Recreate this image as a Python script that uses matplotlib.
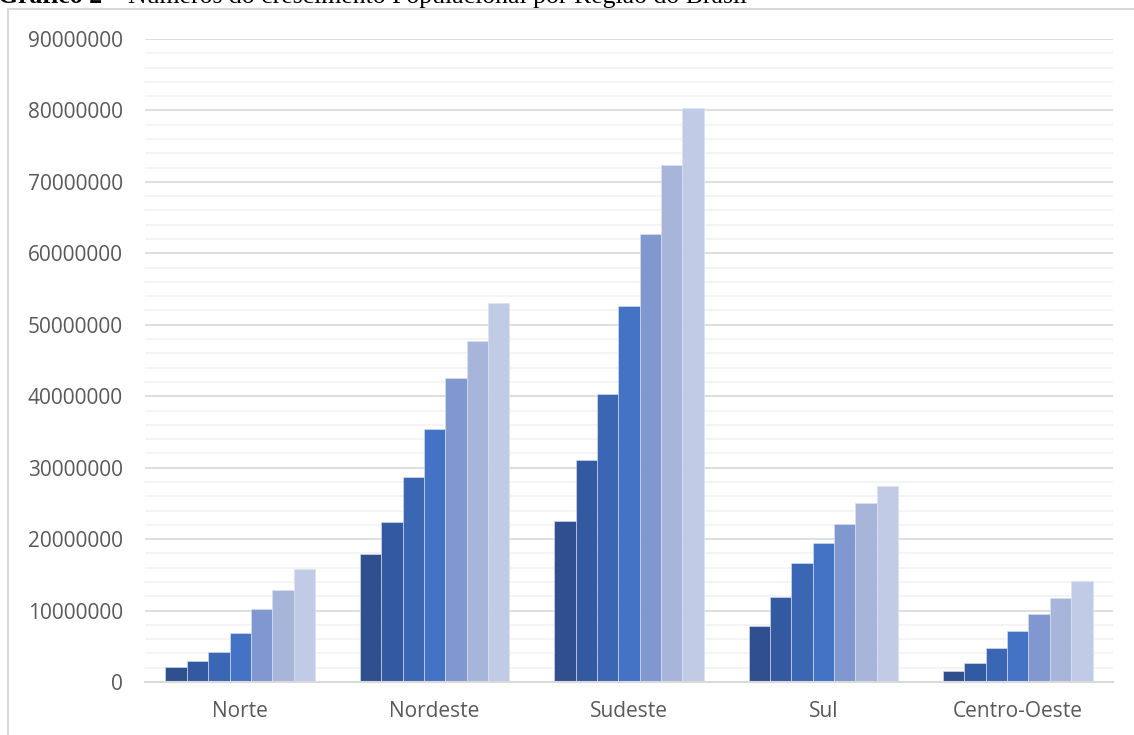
import matplotlib.pyplot as plt
import numpy as np
from matplotlib.lines import Line2D

# Populacao por regiao em cada censo (1950 a 2010)
regioes = ['Norte', 'Nordeste', 'Sudeste', 'Sul', 'Centro-Oeste']
anos = ['1950', '1960', '1970', '1980', '1991', '2000', '2010']
norte = [2050000, 2930000, 4190000, 6800000, 10260000, 12900000, 15860000]
nordeste = [17970000, 22430000, 28680000, 35420000, 42500000, 47740000, 53080000]
sudeste = [22550000, 31060000, 40330000, 52600000, 62740000, 72410000, 80360000]
sul = [7900000, 11900000, 16700000, 19400000, 22100000, 25100000, 27400000]
centro_oeste = [1600000, 2700000, 4700000, 7100000, 9500000, 11700000, 14100000]

cores = ['#2F4F8F', '#335AA1', '#3A66B4', '#4472C4', '#8098CF', '#A7B5DB', '#C1CBE5']

dados = np.array([norte, nordeste, sudeste, sul, centro_oeste])

fig = plt.figure(figsize=(11.34, 7.35), dpi=100)
ax = fig.add_axes([145 / 1134, 1 - 682 / 735, (1113 - 145) / 1134, (682 - 39) / 735])

x = np.arange(len(regioes))
largura = 0.11
for i, ano in enumerate(anos):
    desloc = (i - (len(anos) - 1) / 2) * largura
    ax.bar(x + desloc, dados[:, i], width=largura, color=cores[i],
           edgecolor='#DDE3F0', linewidth=0.4, label=ano, zorder=3)

ax.set_xlim(-0.49, 4.49)
ax.set_ylim(0, 90000000)
ax.set_yticks(np.arange(0, 90000001, 10000000))
ax.set_yticks(np.arange(0, 90000001, 2000000), minor=True)
ax.set_yticklabels([f'{int(v)}' for v in np.arange(0, 90000001, 10000000)])
ax.set_xticks(x)
ax.set_xticklabels(regioes)

ax.grid(axis='y', which='major', color='#D9D9D9', linewidth=1.2, zorder=0)
ax.grid(axis='y', which='minor', color='#F2F2F2', linewidth=1.2, zorder=0)
ax.tick_params(axis='both', which='both', length=0, colors='#595959', labelsize=15)
ax.tick_params(axis='y', pad=16)
ax.tick_params(axis='x', pad=14)
for lbl in ax.get_xticklabels() + ax.get_yticklabels():
    lbl.set_fontfamily('Open Sans')

for lado in ['top', 'right', 'left']:
    ax.spines[lado].set_visible(False)
ax.spines['bottom'].set_color('#D9D9D9')
ax.spines['bottom'].set_linewidth(1.5)
ax.spines['bottom'].set_zorder(4)

# moldura da area do grafico
fig.add_artist(Line2D([8 / 1134, 8 / 1134], [0, 1 - 9 / 735], color='#D9D9D9', lw=1.5))
fig.add_artist(Line2D([8 / 1134, 1], [1 - 9 / 735, 1 - 9 / 735], color='#D9D9D9', lw=1.5))

# titulo (parte em negrito seguida do restante)
y_tit = 1 - 3 / 735
t1 = fig.text(-0.002, y_tit, 'Gráfico 2', family='Liberation Serif', fontweight='bold',
              fontsize=18.5, va='baseline', ha='left', color='black')
fig.canvas.draw()
bb = t1.get_window_extent(renderer=fig.canvas.get_renderer())
fig.text(bb.x1 / fig.bbox.width, y_tit, ' – Números do crescimento Populacional por Região do Brasil',
         family='Liberation Serif', fontsize=18.5, va='baseline', ha='left', color='black')

fig.savefig('out.png', dpi=100)
